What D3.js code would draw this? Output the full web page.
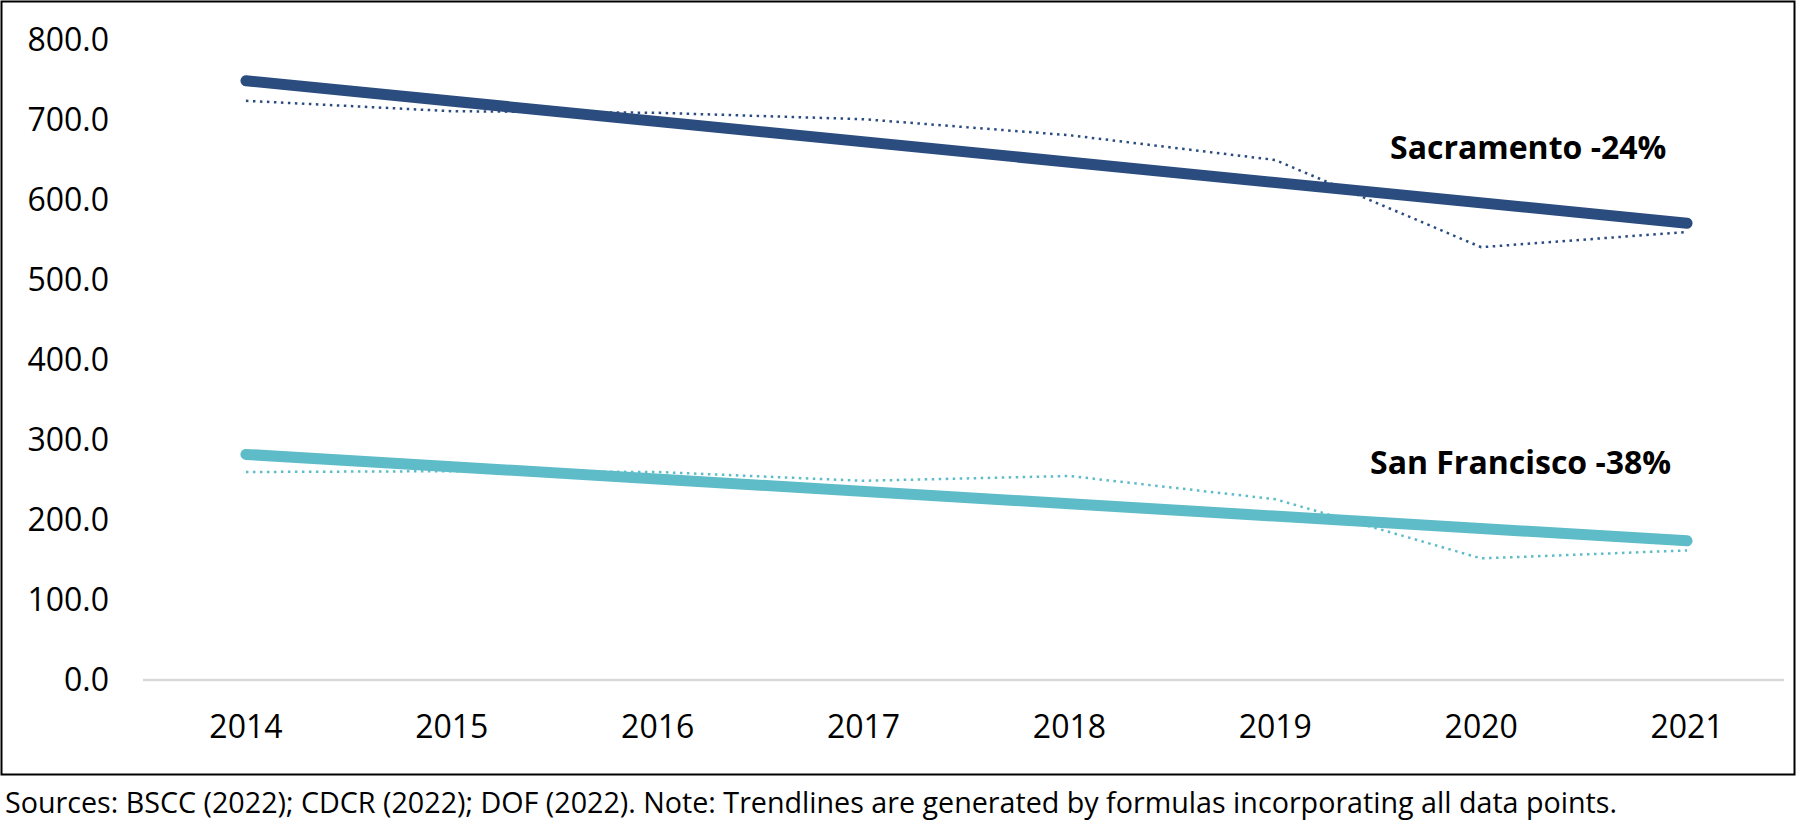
<!DOCTYPE html>
<html>
<head>
<meta charset="utf-8">
<script src="https://cdn.jsdelivr.net/npm/d3@7"></script>
<style>
  body { margin: 0; background: #fff; }
  #chart { width: 1800px; height: 828px; }
  text { font-family: "Open Sans", "Noto Sans", sans-serif; fill: #000; }
</style>
</head>
<body>
<div id="chart"></div>
<script>
// chart data
const years = ["2014", "2015", "2016", "2017", "2018", "2019", "2020", "2021"];
const sacramento = [724, 711, 709, 701, 681, 650, 541, 560];
const sanFrancisco = [260, 261, 260, 249, 255, 226, 152, 162];
// trendline values at first and last year
const trendYears = ["2014", "2021"];
const sacramentoTrend = [749, 571];
const sanFranciscoTrend = [282, 174];
const yTicks = [0, 100, 200, 300, 400, 500, 600, 700, 800];
const labels = ["Sacramento -24%", "San Francisco -38%"];
const note = "Sources: BSCC (2022); CDCR (2022); DOF (2022). Note: Trendlines are generated by formulas incorporating all data points.";

const width = 1800;
const height = 828;

const svg = d3
  .select("#chart")
  .append("svg")
  .attr("width", width)
  .attr("height", height)
  .attr("viewBox", [0, 0, width, height]);

// outer frame
svg
  .append("rect")
  .attr("x", 1.5)
  .attr("y", 1.5)
  .attr("width", 1793)
  .attr("height", 773)
  .attr("fill", "#fff")
  .attr("stroke", "#000")
  .attr("stroke-width", 2);

// scales
const x = d3.scalePoint().domain(years).range([143, 1790]).padding(0.5);
const y = d3.scaleLinear().domain([0, 800]).range([680, 40]);

// y axis labels
svg
  .append("g")
  .selectAll("text")
  .data(yTicks)
  .enter()
  .append("text")
  .attr("x", 109)
  .attr("y", (d) => y(d))
  .attr("dy", "0.35em")
  .attr("text-anchor", "end")
  .attr("font-size", 32)
  .text((d) => d3.format(".1f")(d));

// baseline at zero
svg
  .append("line")
  .attr("x1", 143)
  .attr("x2", 1784)
  .attr("y1", y(0))
  .attr("y2", y(0))
  .attr("stroke", "#d9d9d9")
  .attr("stroke-width", 2.5);

// x axis labels
svg
  .append("g")
  .selectAll("text")
  .data(years)
  .enter()
  .append("text")
  .attr("x", (d) => x(d))
  .attr("y", 727)
  .attr("dy", "0.35em")
  .attr("text-anchor", "middle")
  .attr("font-size", 32)
  .text((d) => d);

const line = d3
  .line()
  .x((d) => x(d[0]))
  .y((d) => y(d[1]));

const series = [
  { values: sacramento, trend: sacramentoTrend, color: "#2b4c7e" },
  { values: sanFrancisco, trend: sanFranciscoTrend, color: "#5dbcc8" },
];

// dotted actual values
series.forEach((s) => {
  svg
    .append("path")
    .attr("d", line(years.map((yr, i) => [yr, s.values[i]])))
    .attr("fill", "none")
    .attr("stroke", s.color)
    .attr("stroke-width", 2.5)
    .attr("stroke-dasharray", "2.5,4.5");
});

// trendlines
series.forEach((s) => {
  svg
    .append("path")
    .attr("d", line(trendYears.map((yr, i) => [yr, s.trend[i]])))
    .attr("fill", "none")
    .attr("stroke", s.color)
    .attr("stroke-width", 11)
    .attr("stroke-linecap", "round");
});

// series labels
svg
  .append("text")
  .attr("x", 1390)
  .attr("y", 159)
  .attr("font-size", 32)
  .attr("font-weight", "bold")
  .text(labels[0]);

svg
  .append("text")
  .attr("x", 1370)
  .attr("y", 474)
  .attr("font-size", 32)
  .attr("font-weight", "bold")
  .text(labels[1]);

// source note
svg
  .append("text")
  .attr("x", 5)
  .attr("y", 813)
  .attr("font-size", 29.5)
  .attr("textLength", 1612)
  .attr("lengthAdjust", "spacingAndGlyphs")
  .text(note);
</script>
</body>
</html>
